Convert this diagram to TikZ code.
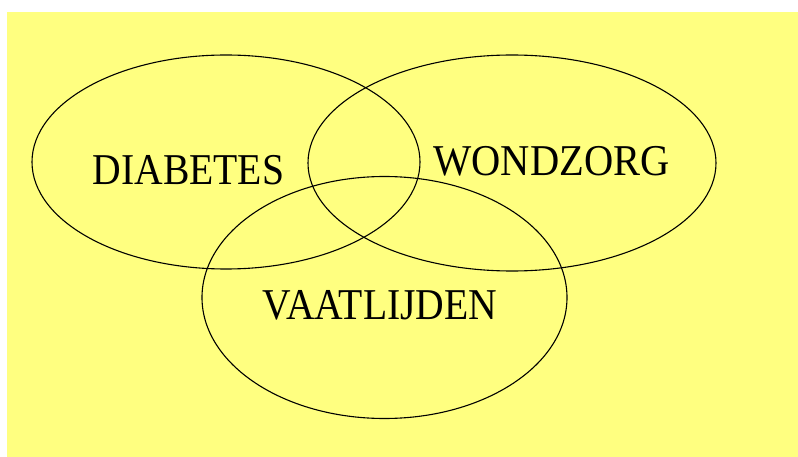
\documentclass[tikz,border=0pt]{standalone}
\usepackage{fontspec}
\setmainfont{Liberation Serif}
\usetikzlibrary{shapes.geometric}
\definecolor{bgyellow}{RGB}{255,255,128}
\tikzset{
  setring/.style={ellipse, draw=black, line width=1.1pt, inner sep=0pt, fill=none},
  setlabel/.style={anchor=base, inner sep=0pt, text=black, font=\fontsize{44}{44}\selectfont}
}
\begin{document}
\begin{tikzpicture}[x=1pt,y=-1pt]
\useasboundingbox (0,0) rectangle (798,457);
\fill[white] (0,0) rectangle (798,457);
\fill[bgyellow] (7,12) rectangle (798,457);
\node[setring, minimum width=388pt, minimum height=214pt] (diab) at (226,162) {};
\node[setring, minimum width=408pt, minimum height=216pt] (wond) at (512,163) {};
\node[setring, minimum width=365pt, minimum height=242pt] (vaat) at (384.5,297.5) {};
\node[setlabel] (tdiab) at (188.5,185) {\scalebox{0.9}[1]{DIABETES}};
\node[setlabel] (twond) at (551.5,176) {\scalebox{0.92}[1]{WONDZORG}};
\node[setlabel] (tvaat) at (380,319) {\scalebox{0.9}[1]{VAATLIJDEN}};
\end{tikzpicture}
\end{document}
